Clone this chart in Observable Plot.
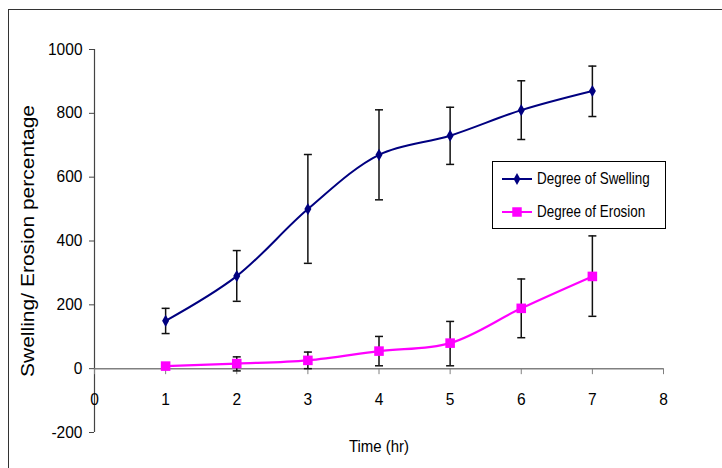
<!DOCTYPE html>
<html>
<head>
<meta charset="utf-8">
<script src="https://cdn.jsdelivr.net/npm/d3@7"></script>
<script src="https://cdn.jsdelivr.net/npm/@observablehq/plot@0.6"></script>
<style>
  body { margin: 0; background: #fff; }
  #wrap { position: relative; width: 722px; height: 468px; overflow: hidden; background: #fff; }
  #border { position: absolute; left: 8px; top: 9px; width: 800px; height: 600px;
            border-top: 1.5px solid #333; border-left: 1.5px solid #333; pointer-events: none; }
  #legend { position: absolute; left: 492px; top: 161px; width: 172px; height: 66px;
            border: 1px solid #000; background: #fff;
            font-family: "Liberation Sans", Arial, sans-serif;
            font-size: 17px; color: #000; }
  .item { position: absolute; left: 8px; height: 20px; display: flex; align-items: center; white-space: nowrap; }
  .item svg { margin-right: 4px; flex: none; }
  .item span { display: inline-block; transform: scaleX(0.79); transform-origin: left center; }
  svg text { font-family: "Liberation Sans", Arial, sans-serif; }
</style>
</head>
<body>
<div id="wrap">
  <div id="chart"></div>
  <div id="border"></div>
  <div id="legend"></div>
</div>
<script>
// ---- data ----
const hours = [1, 2, 3, 4, 5, 6, 7];
const swelling = [150, 290, 500, 670, 730, 810, 870];
const swellingLow = [110, 211, 330, 529, 640, 718, 790];
const swellingHigh = [189, 370, 671, 811, 819, 902, 948];
const erosion = [8, 16, 26, 55, 80, 189, 289];
const erosionLow = [4, -7, 0, 9, 9, 97, 164];
const erosionHigh = [12, 37, 52, 101, 148, 281, 416];
const seriesNames = ["Degree of Swelling", "Degree of Erosion"];
const xTicks = [0, 1, 2, 3, 4, 5, 6, 7, 8];
const yTicks = [-200, 0, 200, 400, 600, 800, 1000];
const xTitle = "Time (hr)";
const yTitle = "Swelling/ Erosion percentage";

const navy = "#000080", magenta = "#FF00FF";

const rows = [];
hours.forEach((h, i) => {
  rows.push({series: seriesNames[0], x: h, y: swelling[i], lo: swellingLow[i], hi: swellingHigh[i]});
});
hours.forEach((h, i) => {
  rows.push({series: seriesNames[1], x: h, y: erosion[i], lo: erosionLow[i], hi: erosionHigh[i]});
});
const sw = rows.filter(d => d.series === seriesNames[0]);
const er = rows.filter(d => d.series === seriesNames[1]);

const W = 722, H = 468, mt = 49, mb = 36, ml = 94, mr = 59;
const yDomain = [-200, 1000];
const yOf = v => mt + (yDomain[1] - v) / (yDomain[1] - yDomain[0]) * (H - mt - mb);
const axisShift = yOf(0) - (H - mb);

const cap = { draw(ctx) { ctx.moveTo(-4, 0); ctx.lineTo(4, 0); } };

const plot = Plot.plot({
  width: W, height: H,
  marginTop: mt, marginBottom: mb, marginLeft: ml, marginRight: mr,
  x: { domain: [0, 8] },
  y: { domain: yDomain },
  style: { fontSize: "16px", color: "#000", background: "transparent" },
  marks: [
    Plot.ruleY([0], { stroke: "#808080", strokeWidth: 1.5 }),
    Plot.ruleX([0], { stroke: "#444", strokeWidth: 1.2 }),
    Plot.axisY({ ticks: yTicks, tickFormat: d => String(d), tickSize: 5, tickPadding: 7,
                 stroke: "#444", label: null, fontSize: 16 }),
    Plot.axisX({ ticks: xTicks, tickFormat: d => String(d), anchor: "bottom", dy: axisShift,
                 tickSize: 6, tickPadding: 19, stroke: "#808080", label: null, fontSize: 16 }),
    Plot.text([xTitle], { frameAnchor: "bottom", dy: 19, fontSize: 17, text: d => d }),
    Plot.text([yTitle], { frameAnchor: "left", textAnchor: "middle", rotate: -90, dx: -66, fontSize: 18, text: d => d }),
    Plot.line(sw, { x: "x", y: "y", stroke: navy, strokeWidth: 2, curve: "catmull-rom" }),
    Plot.line(er, { x: "x", y: "y", stroke: magenta, strokeWidth: 2.2, curve: "catmull-rom" }),
    Plot.ruleX(rows, { x: "x", y1: "lo", y2: "hi", stroke: "#111", strokeWidth: 1.5 }),
    Plot.dot(rows, { x: "x", y: "lo", symbol: cap, stroke: "#111", strokeWidth: 1.5, r: 3 }),
    Plot.dot(rows, { x: "x", y: "hi", symbol: cap, stroke: "#111", strokeWidth: 1.5, r: 3 }),
    Plot.dot(sw, { x: "x", y: "y", symbol: "diamond", fill: navy, r: 3.7 }),
    Plot.dot(er, { x: "x", y: "y", symbol: "square", fill: magenta, r: 5.4 })
  ]
});
document.getElementById("chart").appendChild(plot);

// condense horizontal text like the original (narrow rendering)
plot.querySelectorAll("text").forEach(t => {
  const len = t.getComputedTextLength();
  if (!len) return;
  const isTitleY = t.textContent === yTitle;
  const isTitleX = t.textContent === xTitle;
  const target = isTitleY ? 272 : len * (isTitleX ? 0.88 : 0.97);
  t.setAttribute("textLength", target);
  t.setAttribute("lengthAdjust", "spacingAndGlyphs");
});

// legend
const legend = document.getElementById("legend");
const items = [
  { name: seriesNames[0], color: navy, symbol: d3.symbolDiamond, size: 40, top: 7 },
  { name: seriesNames[1], color: magenta, symbol: d3.symbolSquare, size: 90, top: 40 }
];
items.forEach(it => {
  const div = document.createElement("div");
  div.className = "item";
  div.style.top = it.top + "px";
  const s = d3.create("svg").attr("width", 32).attr("height", 20);
  s.append("line").attr("x1", 1).attr("x2", 31).attr("y1", 10).attr("y2", 10)
    .attr("stroke", it.color).attr("stroke-width", 2);
  s.append("path").attr("d", d3.symbol(it.symbol, it.size)()).attr("transform", "translate(16,10)")
    .attr("fill", it.color);
  div.appendChild(s.node());
  const span = document.createElement("span");
  span.textContent = it.name;
  div.appendChild(span);
  legend.appendChild(div);
});
</script>
</body>
</html>
